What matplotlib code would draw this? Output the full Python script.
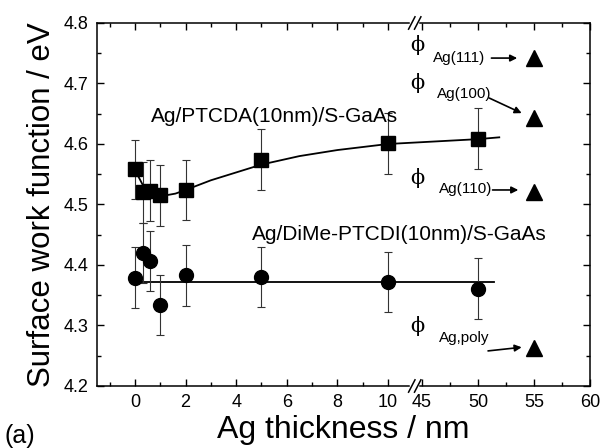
import numpy as np
import matplotlib
matplotlib.use("Agg")
from matplotlib import pyplot as plt
from matplotlib.ticker import FixedLocator, NullFormatter
import matplotlib.transforms as mtrans

# DATA
# Ag/PTCDA(10nm)/S-GaAs
x_ptcda = [0, 0.3, 0.6, 1, 2, 5, 10, 50]
y_ptcda = [4.558, 4.520, 4.523, 4.515, 4.524, 4.574, 4.601, 4.609]
e_ptcda = [0.049, 0.05, 0.05, 0.05, 0.05, 0.05, 0.05, 0.05]
# fitted curve through the PTCDA points
fit_x_ptcda = [0.0, 0.15, 0.3, 0.5, 0.8, 1.2, 1.6, 2.0, 3.0, 4.0, 5.0, 6.5, 8.0, 10.0, 45.0, 50.0, 51.9]
fit_y_ptcda = [4.556, 4.545, 4.533, 4.523, 4.517, 4.515, 4.518, 4.524, 4.540, 4.553, 4.566, 4.580, 4.590, 4.600, 4.603, 4.608, 4.611]

# Ag/DiMe-PTCDI(10nm)/S-GaAs
x_dime = [0, 0.3, 0.6, 1, 2, 5, 10, 50]
y_dime = [4.379, 4.420, 4.407, 4.334, 4.383, 4.380, 4.372, 4.361]
e_dime = [0.05, 0.05, 0.05, 0.05, 0.05, 0.05, 0.05, 0.05]
fit_x_dime = [0.27, 51.4]
fit_y_dime = [4.372, 4.372]

# literature work functions (triangles at 55 nm) and phi markers
lit_labels = ["Ag(111)", "Ag(100)", "Ag(110)", "Ag,poly"]
lit_x = [55, 55, 55, 55]
lit_y = [4.742, 4.643, 4.521, 4.262]
phi_y = [4.763, 4.700, 4.544, 4.299]

xticks = [0, 2, 4, 6, 8, 10, 45, 50, 55, 60]
xminor = [-1, 1, 3, 5, 7, 9, 47.5, 52.5, 57.5]
yticks = [4.2, 4.3, 4.4, 4.5, 4.6, 4.7, 4.8]
yminor = [4.25, 4.35, 4.45, 4.55, 4.65, 4.75]

# broken axis: 0..11 linear, then compressed 45..60
B1, U45, K = 11.2, 11.34, 0.4427


def fwd(x):
    x = np.asarray(x, float)
    return np.where(x <= B1, x,
                    np.where(x >= 45, U45 + (x - 45) * K,
                             B1 + (x - B1) * (U45 - B1) / (45 - B1)))


def inv(u):
    u = np.asarray(u, float)
    return np.where(u <= B1, u,
                    np.where(u >= U45, 45 + (u - U45) / K,
                             B1 + (u - B1) * (45 - B1) / (U45 - B1)))


plt.rcParams['font.family'] = ['Liberation Sans', 'DejaVu Sans']

fig = plt.figure(figsize=(6.01, 4.48), dpi=100)
ax = fig.add_axes([0.1614, 0.1384, 0.8203, 0.8103])
ax.set_xscale('function', functions=(fwd, inv))

# fits
ax.plot(fit_x_ptcda, fit_y_ptcda, color='black', lw=1.3, zorder=2)
ax.plot(fit_x_dime, fit_y_dime, color='black', lw=1.3, zorder=2)

# data with error bars
ax.errorbar(x_ptcda, y_ptcda, yerr=e_ptcda, fmt='s', color='black', ms=10.5,
            ecolor='#333333', elinewidth=0.8, capsize=3, capthick=0.8, zorder=3)
ax.errorbar(x_dime, y_dime, yerr=e_dime, fmt='o', color='black', ms=10,
            ecolor='#333333', elinewidth=0.8, capsize=3, capthick=0.8, zorder=3)

ax.plot(lit_x, lit_y, '^', color='black', ms=12, zorder=3)

# phi markers just right of the break
phi_trans = mtrans.blended_transform_factory(ax.transAxes, ax.transData)
for py in phi_y:
    ax.text(0.649, py, "\u03d5", transform=phi_trans, ha='center', va='center',
            fontsize=15, family='DejaVu Serif')

# literature labels and arrows
lab_pos = [(48.3, 4.742), (48.8, 4.683), (48.9, 4.525), (48.8, 4.279)]
arr_from = [(51.2, 4.742), (51.0, 4.676), (51.3, 4.524), (50.9, 4.258)]
arr_to = [(53.5, 4.742), (53.9, 4.651), (53.6, 4.524), (53.9, 4.264)]
for lab, lp, af, at in zip(lit_labels, lab_pos, arr_from, arr_to):
    ax.text(lp[0], lp[1], lab, ha='center', va='center', fontsize=11)
    ax.annotate("", xy=at, xytext=af,
                arrowprops=dict(arrowstyle='-|>', color='black', lw=1.2,
                                mutation_scale=10, shrinkA=0, shrinkB=0))

# series labels
ax.text(5.5, 4.645, "Ag/PTCDA(10nm)/S-GaAs", ha='center', va='center', fontsize=15)
ax.text(10.43, 4.451, "Ag/DiMe-PTCDI(10nm)/S-GaAs", ha='center', va='center', fontsize=15)

# axes cosmetics
ax.set_xlim(-1.5, 60)
ax.set_ylim(4.2, 4.8)
ax.xaxis.set_major_locator(FixedLocator(xticks))
ax.xaxis.set_minor_locator(FixedLocator(xminor))
ax.xaxis.set_minor_formatter(NullFormatter())
ax.set_xticklabels([str(t) for t in xticks])
ax.yaxis.set_major_locator(FixedLocator(yticks))
ax.yaxis.set_minor_locator(FixedLocator(yminor))
ax.set_yticklabels(["%.1f" % t for t in yticks])
ax.tick_params(which='both', direction='in', top=True, right=True, labelsize=13, width=1)
ax.tick_params(which='major', length=5, pad=6)
ax.tick_params(which='minor', length=3)
for sp in ax.spines.values():
    sp.set_linewidth(1.1)

ax.set_xlabel("Ag thickness / nm", fontsize=23, labelpad=3)
ax.set_ylabel("Surface work function / eV", fontsize=22.5, labelpad=5)
fig.text(0.008, 0.012, "(a)", fontsize=18)

# break marks on top and bottom spines
for y0 in (0.0, 1.0):
    ax.plot([0.637, 0.65], [y0, y0], transform=ax.transAxes, color='white',
            lw=2.5, clip_on=False, zorder=5)
    for xs in (0.632, 0.644):
        ax.plot([xs, xs + 0.013], [y0 - 0.017, y0 + 0.017], transform=ax.transAxes,
                color='black', lw=1.1, clip_on=False, zorder=6)

fig.savefig("out.png", dpi=100)
